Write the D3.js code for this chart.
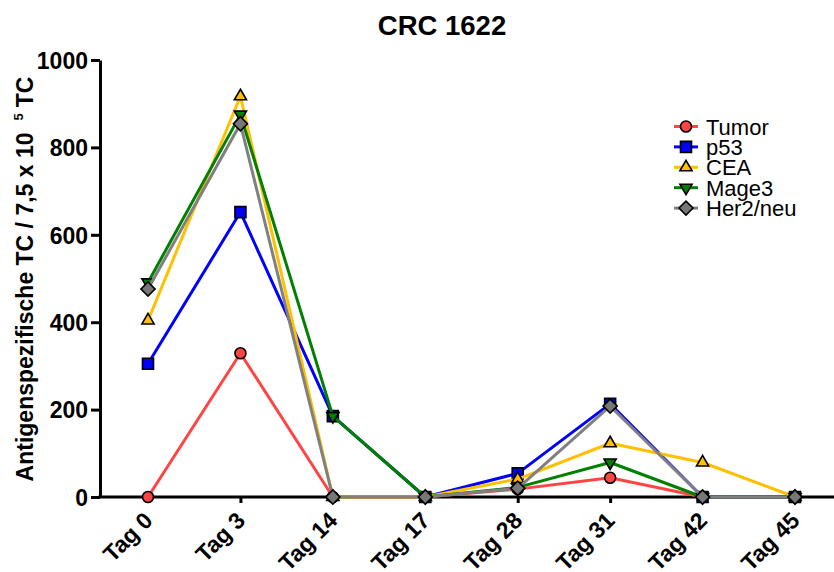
<!DOCTYPE html>
<html>
<head>
<meta charset="utf-8">
<script src="https://cdn.jsdelivr.net/npm/d3@7"></script>
<style>
  body { margin: 0; background: #fff; }
  svg { display: block; font-family: "Liberation Sans", Arial, sans-serif; }
</style>
</head>
<body>
<svg id="chart" width="834" height="572"></svg>
<script>
// Time points and antigen-specific T-cell counts per 7.5 x 10^5 TC
const categories = ["Tag 0", "Tag 3", "Tag 14", "Tag 17", "Tag 28", "Tag 31", "Tag 42", "Tag 45"];
const tumor   = [0, 329, 0, 0, 18, 44, 0, 0];
const p53     = [305, 652, 185, 0, 54, 213, 0, 0];
const cea     = [404, 917, 0, 0, 41, 123, 79, 0];
const mage3   = [491, 875, 185, 0, 22, 79, 0, 0];
const her2neu = [476, 854, 0, 0, 20, 208, 0, 0];
const yTicks  = [0, 200, 400, 600, 800, 1000];
const seriesNames = ["Tumor", "p53", "CEA", "Mage3", "Her2/neu"];

const series = [
  { name: seriesNames[0], values: tumor,   line: "#ff4444", fill: "#ff4444", shape: "circle" },
  { name: seriesNames[1], values: p53,     line: "#0000ff", fill: "#0000ff", shape: "square" },
  { name: seriesNames[2], values: cea,     line: "#ffc000", fill: "#ffc000", shape: "triangle" },
  { name: seriesNames[3], values: mage3,   line: "#008000", fill: "#008000", shape: "triangleDown" },
  { name: seriesNames[4], values: her2neu, line: "#808080", fill: "#777777", shape: "diamond" }
];

const svg = d3.select("#chart");
const axisLeftX = 100, axisRightX = 834, yTop = 60, yBottom = 497;

const x = d3.scalePoint().domain(categories).range([148, 795]);
const y = d3.scaleLinear().domain([0, 1000]).range([yBottom, yTop]);

// Marker shapes
function markerPath(shape) {
  switch (shape) {
    case "circle": return d3.symbol(d3.symbolCircle, 95)();
    case "square": return d3.symbol(d3.symbolSquare, 121)();
    case "triangle": return d3.symbol(d3.symbolTriangle, 64)();
    case "triangleDown": return d3.symbol(d3.symbolTriangle, 64)();
    case "diamond": return d3.symbol(d3.symbolSquare, 100)();
  }
}
function markerRotate(shape) {
  if (shape === "triangleDown") return " rotate(180)";
  if (shape === "diamond") return " rotate(45)";
  return "";
}

// Title
svg.append("text")
  .attr("x", 442).attr("y", 35)
  .attr("text-anchor", "middle")
  .attr("font-size", 27.5).attr("font-weight", "bold")
  .text("CRC 1622");

// Y axis
const gy = svg.append("g")
  .attr("transform", `translate(${axisLeftX},0)`)
  .call(d3.axisLeft(y).tickValues(yTicks).tickFormat(d3.format("d"))
    .tickSize(9).tickSizeOuter(0).tickPadding(3));
gy.select(".domain").attr("stroke-width", 3).attr("stroke", "#000");
gy.selectAll(".tick line").attr("stroke-width", 3).attr("stroke", "#000");
gy.selectAll(".tick text")
  .attr("font-size", 23).attr("font-weight", "bold").attr("fill", "#000")
  .attr("font-family", "Liberation Sans, Arial, sans-serif")
  .attr("dy", "0.36em");

// X axis
const gx = svg.append("g")
  .attr("transform", `translate(0,${yBottom})`)
  .call(d3.axisBottom(x).tickSize(6).tickSizeOuter(0).tickFormat(() => ""));
gx.select(".domain").remove();
gx.selectAll(".tick line").attr("stroke-width", 3).attr("stroke", "#000");
gx.append("line")
  .attr("x1", axisLeftX - 1.5).attr("x2", axisRightX)
  .attr("y1", 0).attr("y2", 0)
  .attr("stroke", "#000").attr("stroke-width", 3);

// Rotated category labels
svg.append("g").selectAll("text")
  .data(categories)
  .join("text")
  .attr("transform", d => `translate(${x(d) + 6},${yBottom + 25}) rotate(-45)`)
  .attr("text-anchor", "end")
  .attr("font-size", 23).attr("font-weight", "bold")
  .text(d => d);

// Y axis title with superscript exponent
const yTitle = svg.append("text")
  .attr("transform", `translate(33,${(76 + 482) / 2}) rotate(-90)`)
  .attr("text-anchor", "middle")
  .attr("font-size", 23).attr("font-weight", "bold");
yTitle.append("tspan").text("Antigenspezifische TC / 7,5 x 10");
yTitle.append("tspan").attr("dx", 12).attr("dy", -10).attr("font-size", 13).text("5");
yTitle.append("tspan").attr("dx", 6).attr("dy", 10).text("TC");

// Series lines and markers
const line = d3.line().x((d, i) => x(categories[i])).y(d => y(d));
series.forEach(s => {
  const g = svg.append("g");
  g.append("path")
    .datum(s.values)
    .attr("d", line)
    .attr("fill", "none")
    .attr("stroke", s.line)
    .attr("stroke-width", 3)
    .attr("stroke-linejoin", "round");
  g.selectAll("path.m")
    .data(s.values)
    .join("path")
    .attr("class", "m")
    .attr("d", markerPath(s.shape))
    .attr("transform", (d, i) => `translate(${x(categories[i])},${y(d)})${markerRotate(s.shape)}`)
    .attr("fill", s.fill)
    .attr("stroke", "#000")
    .attr("stroke-width", 1.6);
});

// Legend
const legend = svg.append("g");
series.forEach((s, i) => {
  const cy = 126.5 + i * 20.4;
  const row = legend.append("g").attr("transform", `translate(0,${cy})`);
  row.append("line")
    .attr("x1", 674).attr("x2", 698).attr("y1", 0).attr("y2", 0)
    .attr("stroke", s.line).attr("stroke-width", 3);
  row.append("path")
    .attr("d", markerPath(s.shape))
    .attr("transform", `translate(686,0)${markerRotate(s.shape)}`)
    .attr("fill", s.fill).attr("stroke", "#000").attr("stroke-width", 1.6);
  row.append("text")
    .attr("x", 706).attr("y", 8)
    .attr("font-size", 22)
    .text(s.name);
});
</script>
</body>
</html>
